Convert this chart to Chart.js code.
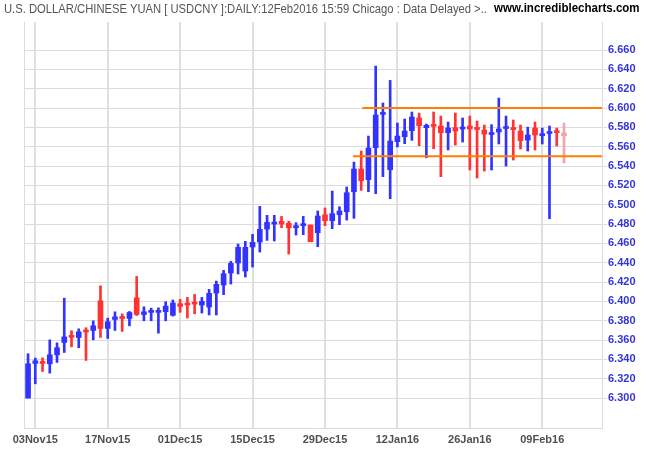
<!DOCTYPE html>
<html>
<head>
<meta charset="utf-8">
<script src="https://cdn.jsdelivr.net/npm/chart.js@4.4.1/dist/chart.umd.min.js"></script>
<style>
  body { margin: 0; background: #fff; }
  #wrap { position: relative; width: 650px; height: 450px; }
  #title { position: absolute; left: 4px; top: 1px; font: 13px "Liberation Sans", Arial, sans-serif; color: #555; white-space: nowrap; transform-origin: 0 0; }
  #site { position: absolute; left: 494px; top: 1px; font: bold 12px "Liberation Sans", Arial, sans-serif; color: #000; white-space: nowrap; transform-origin: 0 0; }
  canvas { position: absolute; left: 0; top: 0; }
</style>
</head>
<body>
<div id="wrap">
  <canvas id="chart" width="650" height="450"></canvas>
  <div id="title">U.S. DOLLAR/CHINESE YUAN [ USDCNY ]:DAILY:12Feb2016 15:59 Chicago : Data Delayed &gt;..</div>
  <div id="site">www.incrediblecharts.com</div>
</div>
<script>
// daily bars, weekdays 02Nov15 .. 12Feb16
const dates = [
  "02Nov15","03Nov15","04Nov15","05Nov15","06Nov15",
  "09Nov15","10Nov15","11Nov15","12Nov15","13Nov15",
  "16Nov15","17Nov15","18Nov15","19Nov15","20Nov15",
  "23Nov15","24Nov15","25Nov15","26Nov15","27Nov15",
  "30Nov15","01Dec15","02Dec15","03Dec15","04Dec15",
  "07Dec15","08Dec15","09Dec15","10Dec15","11Dec15",
  "14Dec15","15Dec15","16Dec15","17Dec15","18Dec15",
  "21Dec15","22Dec15","23Dec15","24Dec15","25Dec15",
  "28Dec15","29Dec15","30Dec15","31Dec15","01Jan16",
  "04Jan16","05Jan16","06Jan16","07Jan16","08Jan16",
  "11Jan16","12Jan16","13Jan16","14Jan16","15Jan16",
  "18Jan16","19Jan16","20Jan16","21Jan16","22Jan16",
  "25Jan16","26Jan16","27Jan16","28Jan16","29Jan16",
  "01Feb16","02Feb16","03Feb16","04Feb16","05Feb16",
  "08Feb16","09Feb16","10Feb16","11Feb16","12Feb16"
];

const open = [
  6.3000,6.3358,6.3375,6.3354,6.3447, 6.3575,6.3633,6.3626,6.3688,6.3699,
  6.4006,6.3720,6.3813,6.3840,6.3823, 6.4037,6.3864,6.3886,6.3886,6.3893,
  6.3856,6.3976,6.3967,6.3978,6.3962, 6.3941,6.4086,6.4169,6.4293,6.4397,
  6.4314,6.4562,6.4614,6.4748,6.4800, 6.4828,6.4807,6.4762,6.4783,6.4790,
  6.4710,6.4896,6.4834,6.4896,6.4927, 6.5134,6.5369,6.5259,6.5590,6.5934,
  6.5362,6.5652,6.5703,6.5766,6.5897, 6.5797,6.5814,6.5814,6.5745,6.5797,
  6.5783,6.5814,6.5782,6.5772,6.5726, 6.5752,6.5788,6.5781,6.5762,6.5669,
  6.5793,6.5714,6.5736,6.5750,6.5741
];
const high = [
  6.3458,6.3413,6.3416,6.3602,6.3571, 6.4033,6.3696,6.3716,6.3727,6.3799,
  6.4161,6.3826,6.3892,6.3871,6.3895, 6.4258,6.3944,6.3930,6.3933,6.3996,
  6.4014,6.4021,6.4041,6.4072,6.4041, 6.4124,6.4210,6.4321,6.4414,6.4593,
  6.4621,6.4693,6.4983,6.4890,6.4890, 6.4879,6.4828,6.4814,6.4879,6.4790,
  6.4935,6.4966,6.5141,6.4979,6.5183, 6.5441,6.5555,6.5710,6.6434,6.6052,
  6.6286,6.5845,6.5886,6.5959,6.5948, 6.5834,6.5959,6.5917,6.5855,6.5948,
  6.5897,6.5917,6.5866,6.5824,6.5828, 6.6103,6.5917,6.5876,6.5824,6.5803,
  6.5855,6.5793,6.5814,6.5793,6.5845
];
const low = [
  6.3000,6.3147,6.3275,6.3258,6.3368, 6.3471,6.3530,6.3520,6.3389,6.3602,
  6.3627,6.3616,6.3699,6.3689,6.3747, 6.3854,6.3799,6.3799,6.3671,6.3799,
  6.3848,6.3886,6.3828,6.3872,6.3879, 6.3859,6.3859,6.4069,6.4179,6.4283,
  6.4252,6.4355,6.4510,6.4631,6.4624, 6.4762,6.4490,6.4686,6.4690,6.4617,
  6.4565,6.4783,6.4752,6.4793,6.4841, 6.4859,6.5148,6.5134,6.5114,6.5290,
  6.5062,6.5597,6.5631,6.5666,6.5610, 6.5486,6.5579,6.5290,6.5566,6.5617,
  6.5648,6.5359,6.5276,6.5348,6.5359, 6.5628,6.5400,6.5462,6.5576,6.5555,
  6.5566,6.5628,6.4855,6.5607,6.5431
];
const close = [
  6.3354,6.3385,6.3358,6.3447,6.3520, 6.3633,6.3628,6.3685,6.3683,6.3747,
  6.3720,6.3789,6.3840,6.3823,6.3885, 6.3864,6.3892,6.3892,6.3890,6.3951,
  6.3983,6.3948,6.3962,6.3972,6.4000, 6.4083,6.4176,6.4286,6.4393,6.4559,
  6.4559,6.4610,6.4745,6.4817,6.4806, 6.4800,6.4762,6.4776,6.4789,6.4617,
  6.4883,6.4834,6.4907,6.4935,6.5124, 6.5369,6.5248,6.5586,6.5928,6.5938,
  6.5659,6.5710,6.5762,6.5907,6.5817, 6.5821,6.5810,6.5745,6.5793,6.5762,
  6.5803,6.5783,6.5778,6.5731,6.5730, 6.5783,6.5792,6.5777,6.5662,6.5721,
  6.5721,6.5731,6.5740,6.5745,6.5714
];

const xTickLabels = ["03Nov15","17Nov15","01Dec15","15Dec15","29Dec15","12Jan16","26Jan16","09Feb16"];
const yTickValues = [6.30,6.32,6.34,6.36,6.38,6.40,6.42,6.44,6.46,6.48,6.50,6.52,6.54,6.56,6.58,6.60,6.62,6.64,6.66];

// horizontal lines drawn on the chart: price level and bar position where they start
const resistance = { level: 6.600, from: 46.15 };
const support = { level: 6.550, from: 44.86 };

const UP = "#3333ff", DOWN = "#ff3333", LAST = "#f4a3a8";
const lastIdx = dates.length - 1;
const barColor = dates.map((d, i) => i === lastIdx ? LAST : (close[i] >= open[i] ? UP : DOWN));

const xMin = -0.56, xMax = 79.25;

// squeeze the header texts to the width they take in the original
function fitWidth(id, w) {
  const el = document.getElementById(id);
  el.style.transform = "scaleX(" + (w / el.offsetWidth) + ")";
}
fitWidth("title", 483);
fitWidth("site", 146);

const frame = {
  id: "frame",
  beforeDatasetsDraw(chart) {
    const { ctx, chartArea } = chart;
    ctx.save();
    ctx.strokeStyle = "#dcdcdc";
    ctx.lineWidth = 1;
    ctx.beginPath();
    ctx.moveTo(chartArea.left + 0.5, chartArea.top);
    ctx.lineTo(chartArea.left + 0.5, chartArea.bottom);
    ctx.stroke();
    ctx.restore();
  }
};

const ctx = document.getElementById("chart").getContext("2d");
Chart.defaults.font.family = "'Liberation Sans', Arial, sans-serif";

new Chart(ctx, {
  type: "bar",
  data: {
    datasets: [
      {
        type: "line",
        data: [{ x: resistance.from, y: resistance.level }, { x: xMax, y: resistance.level }],
        borderColor: "#ff8000", borderWidth: 2, pointRadius: 0, fill: false
      },
      {
        type: "line",
        data: [{ x: support.from, y: support.level }, { x: xMax, y: support.level }],
        borderColor: "#ff8000", borderWidth: 2, pointRadius: 0, fill: false
      },
      {
        // bodies
        data: dates.map((d, i) => ({ x: i, y: [open[i], close[i]] })),
        backgroundColor: barColor,
        barThickness: 5,
        minBarLength: 2,
        grouped: false
      },
      {
        // wicks
        data: dates.map((d, i) => ({ x: i, y: [low[i], high[i]] })),
        backgroundColor: barColor,
        barThickness: 2,
        grouped: false
      }
    ]
  },
  options: {
    responsive: false,
    animation: false,
    layout: { padding: { left: 24, top: 22, right: 0, bottom: 0 } },
    plugins: { legend: { display: false }, tooltip: { enabled: false } },
    scales: {
      x: {
        type: "linear",
        offset: false,
        min: xMin,
        max: xMax,
        afterBuildTicks: (axis) => {
          axis.ticks = xTickLabels.map(l => ({ value: dates.indexOf(l) }));
        },
        afterFit: (axis) => { axis.height = 22; },
        ticks: {
          autoSkip: false,
          maxRotation: 0,
          padding: 5,
          color: "#505050",
          font: { size: 11, weight: "bold" },
          callback: (v) => dates[v]
        },
        grid: { offset: false, color: "#e0e0e0", lineWidth: 2, drawTicks: false },
        border: { display: true, color: "#dcdcdc", width: 1 }
      },
      y: {
        type: "linear",
        position: "right",
        min: 6.269,
        max: 6.689,
        afterBuildTicks: (axis) => {
          axis.ticks = yTickValues.map(v => ({ value: v }));
        },
        afterFit: (axis) => { axis.width = 48; },
        ticks: {
          padding: 1,
          color: "#3535d5",
          font: { size: 11, weight: "bold" },
          callback: (v) => v.toFixed(3)
        },
        grid: { color: "#dcdcdc", lineWidth: 1, tickLength: 5 },
        border: { display: true, color: "#dcdcdc", width: 1 }
      }
    }
  },
  plugins: [frame]
});
</script>
</body>
</html>
